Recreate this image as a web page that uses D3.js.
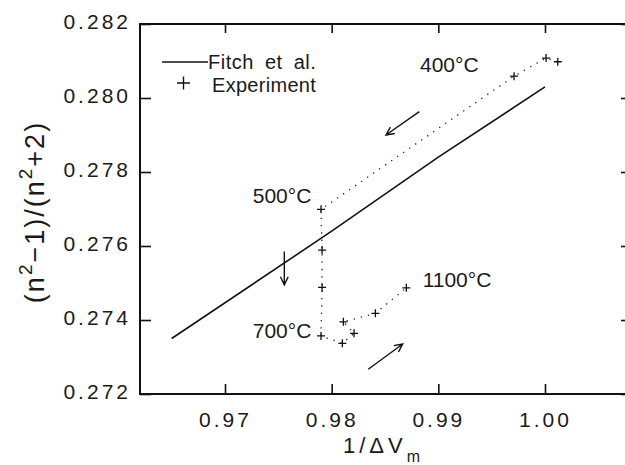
<!DOCTYPE html>
<html>
<head>
<meta charset="utf-8">
<script src="https://cdn.jsdelivr.net/npm/d3@7"></script>
<style>
  html, body { margin: 0; padding: 0; background: #fff; }
  svg { display: block; }
  text { font-family: "Liberation Sans", Arial, sans-serif; fill: #1a1a1a; }
</style>
</head>
<body>
<div id="chart"></div>
<script>
// --- Data ---
// Fitch et al. reference line
const fitchX = [0.965, 0.980, 0.990, 1.000];
const fitchY = [0.2735, 0.2764, 0.2784, 0.2803];

// Experiment points, in order of the heating run (dotted path follows this order)
const expX = [1.0012, 1.0001, 0.9971, 0.9790, 0.9791, 0.9791, 0.9790, 0.9810, 0.9821, 0.9811, 0.9841, 0.9870];
const expY = [0.28098, 0.28108, 0.28059, 0.27699, 0.27589, 0.27488, 0.27357, 0.27337, 0.27364, 0.27395, 0.27418, 0.27487];

// Temperature labels (anchored at left / baseline, data units)
const labelText = ["400°C", "500°C", "700°C", "1100°C"];
const labelX = [0.98828, 0.97260, 0.97260, 0.98853];
const labelY = [0.28070, 0.27716, 0.27351, 0.27488];

// Arrows (from -> to, data units)
const arrowX1 = [0.98822, 0.97556, 0.98343];
const arrowY1 = [0.27963, 0.27585, 0.27267];
const arrowX2 = [0.98509, 0.97556, 0.98666];
const arrowY2 = [0.27900, 0.27495, 0.27335];

const xTicks = [0.97, 0.98, 0.99, 1.00];
const yTicks = [0.272, 0.274, 0.276, 0.278, 0.280, 0.282];

// --- Layout ---
const width = 625, height = 465;
const plotL = 140, plotR = 630, plotT = 24, plotB = 394;

const svg = d3.select("#chart").append("svg")
    .attr("width", width)
    .attr("height", height);

const x = d3.scaleLinear().domain([0.96203, 1.00797]).range([plotL, plotR]);
const y = d3.scaleLinear().domain([0.272, 0.282]).range([plotB, plotT]);

// --- Axes (ticks inward on all four sides) ---
svg.append("g")
    .attr("transform", `translate(0,${plotB})`)
    .call(d3.axisBottom(x).tickValues(xTicks).tickSizeInner(-10).tickSizeOuter(0)
        .tickFormat(d3.format(".2f")).tickPadding(18))
    .call(g => g.select(".domain").remove())
    .call(g => g.selectAll("line").attr("stroke", "#111").attr("stroke-width", 1.6))
    .call(g => g.selectAll("text").style("font-size", "21px").style("letter-spacing", "3px")
        .attr("fill", "#1a1a1a"));

svg.append("g")
    .attr("transform", `translate(0,${plotT})`)
    .call(d3.axisTop(x).tickValues(xTicks).tickSizeInner(-9).tickSizeOuter(0).tickFormat(""))
    .call(g => g.select(".domain").remove())
    .call(g => g.selectAll("line").attr("stroke", "#111").attr("stroke-width", 1.6));

svg.append("g")
    .attr("transform", `translate(${plotL},0)`)
    .call(d3.axisLeft(y).tickValues(yTicks).tickSizeInner(-11).tickSizeOuter(0)
        .tickFormat(d3.format(".3f")).tickPadding(9))
    .call(g => g.select(".domain").remove())
    .call(g => g.selectAll("line").attr("stroke", "#111").attr("stroke-width", 1.6))
    .call(g => g.selectAll("text").style("font-size", "21px").style("letter-spacing", "3px")
        .attr("fill", "#1a1a1a").attr("dy", "0.2em"));

svg.append("g")
    .attr("transform", `translate(${plotR},0)`)
    .call(d3.axisRight(y).tickValues(yTicks).tickSizeInner(-9).tickSizeOuter(0).tickFormat(""))
    .call(g => g.select(".domain").remove())
    .call(g => g.selectAll("line").attr("stroke", "#111").attr("stroke-width", 1.6));

// frame
svg.append("rect")
    .attr("x", plotL).attr("y", plotT)
    .attr("width", plotR - plotL).attr("height", plotB - plotT)
    .attr("fill", "none").attr("stroke", "#111").attr("stroke-width", 2);

// --- Fitch line ---
const line = d3.line().x(d => x(d[0])).y(d => y(d[1]));
svg.append("path")
    .datum(d3.zip(fitchX, fitchY))
    .attr("d", line)
    .attr("fill", "none")
    .attr("stroke", "#111")
    .attr("stroke-width", 1.6);

// --- Experiment: dotted path + crosses ---
const exp = d3.zip(expX, expY);
svg.append("path")
    .datum(exp)
    .attr("d", line)
    .attr("fill", "none")
    .attr("stroke", "#222")
    .attr("stroke-width", 1.3)
    .attr("stroke-dasharray", "1.3,6");

const cs = 4;
svg.append("g").selectAll("path")
    .data(exp)
    .enter()
    .append("path")
    .attr("d", d => `M${x(d[0]) - cs},${y(d[1])}h${2 * cs}M${x(d[0])},${y(d[1]) - cs}v${2 * cs}`)
    .attr("stroke", "#111")
    .attr("stroke-width", 1.3);

// --- Temperature labels ---
svg.append("g").selectAll("text")
    .data(labelText)
    .enter()
    .append("text")
    .attr("x", (d, i) => x(labelX[i]))
    .attr("y", (d, i) => y(labelY[i]))
    .style("font-size", "21px")
    .text(d => d);

// --- Arrows ---
const arrows = d3.range(arrowX1.length).map(i => ({
    x1: x(arrowX1[i]), y1: y(arrowY1[i]), x2: x(arrowX2[i]), y2: y(arrowY2[i])
}));
const headLen = 9, headAng = Math.PI / 7;
svg.append("g").selectAll("path")
    .data(arrows)
    .enter()
    .append("path")
    .attr("d", a => {
        const ang = Math.atan2(a.y2 - a.y1, a.x2 - a.x1);
        const h1x = a.x2 - headLen * Math.cos(ang - headAng), h1y = a.y2 - headLen * Math.sin(ang - headAng);
        const h2x = a.x2 - headLen * Math.cos(ang + headAng), h2y = a.y2 - headLen * Math.sin(ang + headAng);
        return `M${a.x1},${a.y1}L${a.x2},${a.y2}M${h1x},${h1y}L${a.x2},${a.y2}L${h2x},${h2y}`;
    })
    .attr("fill", "none")
    .attr("stroke", "#111")
    .attr("stroke-width", 1.4);

// --- Legend ---
const legend = svg.append("g");
legend.append("line")
    .attr("x1", 162).attr("x2", 208).attr("y1", 62).attr("y2", 62)
    .attr("stroke", "#111").attr("stroke-width", 1.6);
legend.append("text")
    .attr("x", 208).attr("y", 69)
    .style("font-size", "20px").style("word-spacing", "5px").style("letter-spacing", "0.5px")
    .text("Fitch et al.");
legend.append("path")
    .attr("d", "M177,83h13M183.5,76.5v13")
    .attr("stroke", "#111").attr("stroke-width", 1.4);
legend.append("text")
    .attr("x", 212).attr("y", 91.5)
    .style("font-size", "20px").style("letter-spacing", "0.3px")
    .text("Experiment");

// --- Axis titles ---
const xTitle = svg.append("text")
    .attr("x", 343).attr("y", 453)
    .style("font-size", "22px").style("letter-spacing", "4px");
xTitle.append("tspan").text("1/ΔV");
xTitle.append("tspan").attr("dy", 9).style("font-size", "16px").style("letter-spacing", "0px").text("m");

const yTitle = svg.append("text")
    .attr("transform", "translate(44,212) rotate(-90)")
    .attr("text-anchor", "middle")
    .style("font-size", "27px").style("letter-spacing", "2px");
yTitle.append("tspan").text("(n");
yTitle.append("tspan").attr("dy", -12).style("font-size", "19px").text("2");
yTitle.append("tspan").attr("dy", 12).text("−1)/(n");
yTitle.append("tspan").attr("dy", -12).style("font-size", "19px").text("2");
yTitle.append("tspan").attr("dy", 12).text("+2)");
</script>
</body>
</html>
